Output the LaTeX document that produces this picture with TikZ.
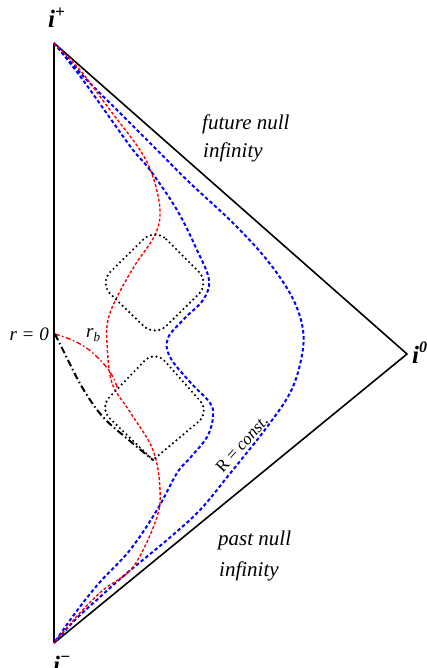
\documentclass[tikz,border=0pt]{standalone}
\usepackage{fontspec}
\setmainfont{Liberation Serif}
\begin{document}
\begin{tikzpicture}[x=1pt,y=-1pt,
  edge/.style={black,line width=1.6pt},
  bluecurve/.style={blue,line width=2pt,dash pattern=on 3.5pt off 2.5pt},
  redcurve/.style={red,line width=1.4pt,dash pattern=on 3pt off 2pt},
  dotbox/.style={black,line width=2.4pt,line cap=round,dash pattern=on 0pt off 4.6pt},
  dashdot/.style={black,line width=2pt,dash pattern=on 7pt off 3pt on 1.5pt off 3pt},
  reddashdot/.style={red,line width=1.4pt,dash pattern=on 5pt off 2.5pt on 1.5pt off 2.5pt},
  lab/.style={font=\itshape\fontsize{21}{24}\selectfont, inner sep=0pt, anchor=base west},
  small/.style={font=\itshape\fontsize{19}{22}\selectfont, inner sep=0pt},
  pt/.style={font=\bfseries\itshape\fontsize{25}{28}\selectfont, inner sep=0pt, anchor=base west},
  sup/.style={}
]
\useasboundingbox (0,0) rectangle (427,668);
% vertices
\coordinate (top) at (54,43);
\coordinate (bot) at (54,643);
\coordinate (right) at (407,354);
\coordinate (origin) at (55,334);
% triangle
\draw[black,line width=2pt] (top) -- (bot);
\draw[edge] (top) -- (right) -- (bot);
% outer blue (R = const.)
\draw[bluecurve] plot[smooth,tension=0.6] coordinates {(54,43) (85,78) (120,113) (157,150) (190,183) (233,223) (267,260) (292,297) (303,330) (301,360) (290,393) (267,427) (245,455) (228,476) (200,510) (167,540) (127,573) (100,597) (76,619) (54,643)};
% inner blue
\draw[bluecurve] plot[smooth,tension=0.6] coordinates {(54,43) (80,76) (110,118) (133,150) (150,170) (177,210) (197,250) (209,280) (203,300) (185,318) (168,338) (170,357) (190,382) (210,403) (213,417) (207,437) (190,458) (177,473) (157,510) (130,550) (100,582) (76,612) (54,643)};
% red dashed
\draw[redcurve] plot[smooth,tension=0.6] coordinates {(54,43) (80,70) (110,110) (140,150) (153,177) (160,210) (155,235) (135,265) (117,297) (108,320) (107,343) (112,383) (130,412) (153,450) (160,490) (156,520) (133,567) (103,590) (78,615) (54,643)};
% red dash-dot
\draw[reddashdot] plot[smooth,tension=0.6] coordinates {(origin) (72,340) (88,349) (103,363) (113,377) (118,390)};
% black dash-dot
\draw[dashdot] plot[smooth,tension=0.6] coordinates {(origin) (63,350) (82,387) (103,417) (130,441) (153,460)};
% upper dotted box
\draw[dotbox,rounded corners=16pt] (155,228) -- (210,283) -- (155,337) -- (99,283) -- cycle;
% lower dotted box
\draw[dotbox] (153,460) [rounded corners=15pt] -- (99,408) -- (155,350) -- (210,412) -- (153,460);
% labels
\node[pt] (iplus) at (48,28) {i\raisebox{0.42em}{\fontsize{17}{17}\selectfont +}};
\node[pt] (izero) at (412,363) {i\raisebox{0.42em}{\fontsize{16}{16}\selectfont 0}};
\node[pt] (iminus) at (53,673) {i\raisebox{0.42em}{\fontsize{17}{17}\selectfont −}};
\node[small,anchor=base east] (rzero) at (49,340) {r = 0};
\node[small,anchor=base west] (rb) at (86,337) {r\raisebox{-0.25em}{\fontsize{13}{13}\selectfont b}};
\node[lab] (fut1) at (202,130) {future null};
\node[lab] (fut2) at (203,158) {infinity};
\node[lab] (past1) at (218,545) {past null};
\node[lab] (past2) at (219,576) {infinity};
\node[font=\fontsize{17}{20}\selectfont, inner sep=0pt, rotate=48] (rconst) at (242,444) {R = \textit{const.}};
\end{tikzpicture}
\end{document}
